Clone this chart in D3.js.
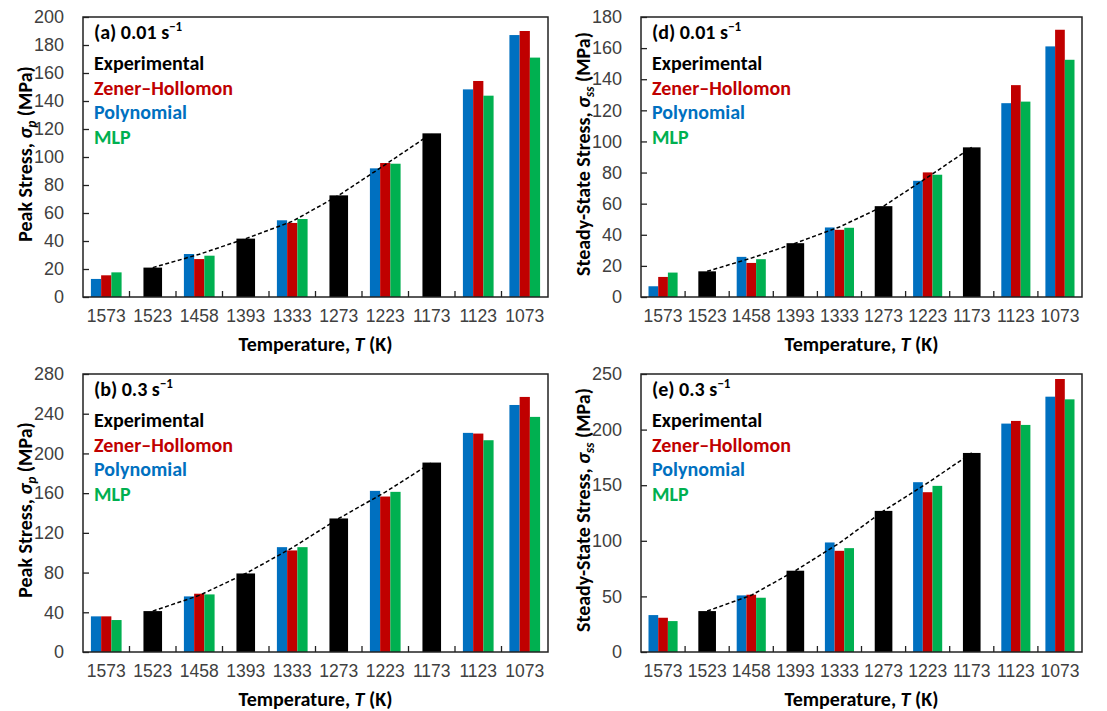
<!DOCTYPE html>
<html>
<head>
<meta charset="utf-8">
<script src="https://cdn.jsdelivr.net/npm/d3@7"></script>
<style>
  body { margin: 0; background: #fff; }
  svg { font-family: Carlito, Lato, "Open Sans", sans-serif; }
</style>
</head>
<body>
<script>
// temperatures on the category axis
var temps = ["1573", "1523", "1458", "1393", "1333", "1273", "1223", "1173", "1123", "1073"];

// (a) peak stress, 0.01 /s
var expA  = [null, 21, 30.5, 41.7, 54, 72.6, 94.5, 116.9, null, null];
var polyA = [12.9, null, 30.7, null, 54.8, null, 91.9, null, 148.3, 187.1];
var zhA   = [15.5, null, 27.1, null, 52.9, null, 95.7, null, 154.3, 190];
var mlpA  = [17.6, null, 29.5, null, 55.7, null, 95.2, null, 143.8, 171];

// (b) peak stress, 0.3 /s
var expB  = [null, 41.2, 57, 79.1, 105, 134.5, 161, 190.8, null, null];
var polyB = [35.9, null, 56, null, 105.6, null, 162.3, null, 220.7, 248.8];
var zhB   = [35.9, null, 58.7, null, 102.3, null, 156.6, null, 220, 256.9];
var mlpB  = [32.2, null, 58, null, 105.6, null, 161.3, null, 213.3, 236.8];

// (d) steady-state stress, 0.01 /s
var expD  = [null, 16.5, 25, 34.6, 45, 58.4, 77, 96.2, null, null];
var polyD = [6.9, null, 25.8, null, 44.7, null, 74.7, null, 124.6, 161.1];
var zhD   = [12.9, null, 21.9, null, 43.2, null, 80.1, null, 136.2, 171.8];
var mlpD  = [15.7, null, 24.3, null, 44.5, null, 78.6, null, 125.6, 152.5];

// (e) steady-state stress, 0.3 /s
var expE  = [null, 36.8, 51, 73.1, 98, 126.9, 152, 179, null, null];
var polyE = [33.2, null, 50.9, null, 98.5, null, 152.7, null, 205.4, 229.6];
var zhE   = [30.8, null, 51.5, null, 91, null, 143.7, null, 207.8, 245.5];
var mlpE  = [27.8, null, 48.8, null, 93.4, null, 149.4, null, 204.2, 227.2];

var legendNames = ["Experimental", "Zener\u2013Hollomon", "Polynomial", "MLP"];
var colors = { exp: "#000000", zh: "#C00000", poly: "#0070C0", mlp: "#00B050" };

window.onload = function() {
    var w = 1107, h = 711;

    var svg = d3.select("body").append("svg")
        .attr("width", w)
        .attr("height", h);

    var panels = [
        { tag: "(a)", rate: "0.01", x0: 83, x1: 548, y0: 17, y1: 297, max: 200, step: 20,
          ylab: "Peak Stress, ", sub: "p", exp: expA, poly: polyA, zh: zhA, mlp: mlpA },
        { tag: "(d)", rate: "0.01", x0: 641, x1: 1082, y0: 17, y1: 297, max: 180, step: 20,
          ylab: "Steady-State Stress, ", sub: "ss", exp: expD, poly: polyD, zh: zhD, mlp: mlpD },
        { tag: "(b)", rate: "0.3", x0: 83, x1: 548, y0: 374, y1: 652, max: 280, step: 40,
          ylab: "Peak Stress, ", sub: "p", exp: expB, poly: polyB, zh: zhB, mlp: mlpB },
        { tag: "(e)", rate: "0.3", x0: 641, x1: 1082, y0: 374, y1: 652, max: 250, step: 50,
          ylab: "Steady-State Stress, ", sub: "ss", exp: expE, poly: polyE, zh: zhE, mlp: mlpE }
    ];

    panels.forEach(function(p) {
        var x = d3.scaleBand().domain(temps).range([p.x0, p.x1]);
        var y = d3.scaleLinear().domain([0, p.max]).range([p.y1, p.y0]);
        var bw = x.bandwidth() * 0.22;   // model bar width
        var ew = x.bandwidth() * 0.40;   // experimental bar width

        var g = svg.append("g");

        // model bars: polynomial, Z-H, MLP side by side
        var series = [["poly", p.poly], ["zh", p.zh], ["mlp", p.mlp]];
        series.forEach(function(s, k) {
            g.selectAll(null)
                .data(temps.map(function(t, i) { return { t: t, v: s[1][i] }; })
                    .filter(function(d) { return d.v != null; }))
                .enter().append("rect")
                .attr("x", function(d) { return x(d.t) + x.bandwidth() / 2 + (k - 1.5) * bw; })
                .attr("width", bw)
                .attr("y", function(d) { return y(d.v); })
                .attr("height", function(d) { return y(0) - y(d.v); })
                .attr("fill", colors[s[0]]);
        });

        // experimental bars where no model prediction is shown
        g.selectAll(null)
            .data(temps.map(function(t, i) { return { t: t, v: p.exp[i], m: p.poly[i] }; })
                .filter(function(d) { return d.v != null && d.m == null; }))
            .enter().append("rect")
            .attr("x", function(d) { return x(d.t) + x.bandwidth() / 2 - ew / 2; })
            .attr("width", ew)
            .attr("y", function(d) { return y(d.v); })
            .attr("height", function(d) { return y(0) - y(d.v); })
            .attr("fill", colors.exp);

        // dashed experimental trend
        var line = d3.line()
            .defined(function(d) { return d.v != null; })
            .x(function(d) { return x(d.t) + x.bandwidth() / 2; })
            .y(function(d) { return y(d.v); });
        g.append("path")
            .datum(temps.map(function(t, i) { return { t: t, v: p.exp[i] }; }))
            .attr("d", line)
            .attr("fill", "none")
            .attr("stroke", "#000")
            .attr("stroke-width", 1.5)
            .attr("stroke-dasharray", "4,2.5");

        // y axis with inward ticks
        var yAxis = g.append("g")
            .attr("transform", "translate(" + p.x0 + ",0)")
            .call(d3.axisLeft(y).tickValues(d3.range(0, p.max + 1, p.step))
                .tickSizeInner(-6).tickSizeOuter(0).tickPadding(19));
        yAxis.select(".domain").remove();
        yAxis.selectAll("line").attr("stroke", "#222").attr("stroke-width", 1.3);
        yAxis.selectAll("text").attr("font-size", 18).attr("fill", "#404040");

        // x axis labels
        var xAxis = g.append("g")
            .attr("transform", "translate(0," + p.y1 + ")")
            .call(d3.axisBottom(x).tickSize(0).tickPadding(13));
        xAxis.select(".domain").remove();
        xAxis.selectAll("text").attr("font-size", 17.5).attr("fill", "#404040");

        // boundary ticks between categories
        g.selectAll(null)
            .data(temps.slice(1))
            .enter().append("line")
            .attr("x1", function(d) { return x(d); })
            .attr("x2", function(d) { return x(d); })
            .attr("y1", p.y1)
            .attr("y2", p.y1 - 6)
            .attr("stroke", "#222")
            .attr("stroke-width", 1.3);

        // plot frame
        g.append("rect")
            .attr("x", p.x0).attr("y", p.y0)
            .attr("width", p.x1 - p.x0).attr("height", p.y1 - p.y0)
            .attr("fill", "none")
            .attr("stroke", "#222")
            .attr("stroke-width", 1.5);

        // panel title
        var tt = g.append("text")
            .attr("x", p.x0 + 11).attr("y", p.y0 + 22)
            .attr("font-size", 20).attr("font-weight", "bold").attr("fill", "#000")
            .text(p.tag + " " + p.rate + " s");
        tt.append("tspan").attr("dy", -8).attr("font-size", 13).text("\u22121");

        // legend as coloured text
        var lc = [colors.exp, colors.zh, colors.poly, colors.mlp];
        legendNames.forEach(function(n, i) {
            g.append("text")
                .attr("x", p.x0 + 11).attr("y", p.y0 + 53 + i * 24.5)
                .attr("font-size", 20).attr("font-weight", "bold")
                .attr("fill", lc[i])
                .text(n);
        });

        // y title
        var yt = g.append("text")
            .attr("transform", "translate(" + (p.x0 - 51) + "," + ((p.y0 + p.y1) / 2 - 3) + ") rotate(-90)")
            .attr("text-anchor", "middle")
            .attr("font-size", 20).attr("font-weight", "bold").attr("fill", "#000")
            .text(p.ylab);
        yt.append("tspan").attr("font-style", "italic").text("\u03C3");
        yt.append("tspan").attr("font-style", "italic").attr("font-size", 13).attr("dy", 4).text(p.sub);
        yt.append("tspan").attr("dy", -4).text(" (MPa)");

        // x title
        var xt = g.append("text")
            .attr("x", (p.x0 + p.x1) / 2).attr("y", p.y1 + 54)
            .attr("text-anchor", "middle")
            .attr("font-size", 20).attr("font-weight", "bold").attr("fill", "#000")
            .text("Temperature, ");
        xt.append("tspan").attr("font-style", "italic").text("T");
        xt.append("tspan").text(" (K)");
    });
};
</script>
</body>
</html>
